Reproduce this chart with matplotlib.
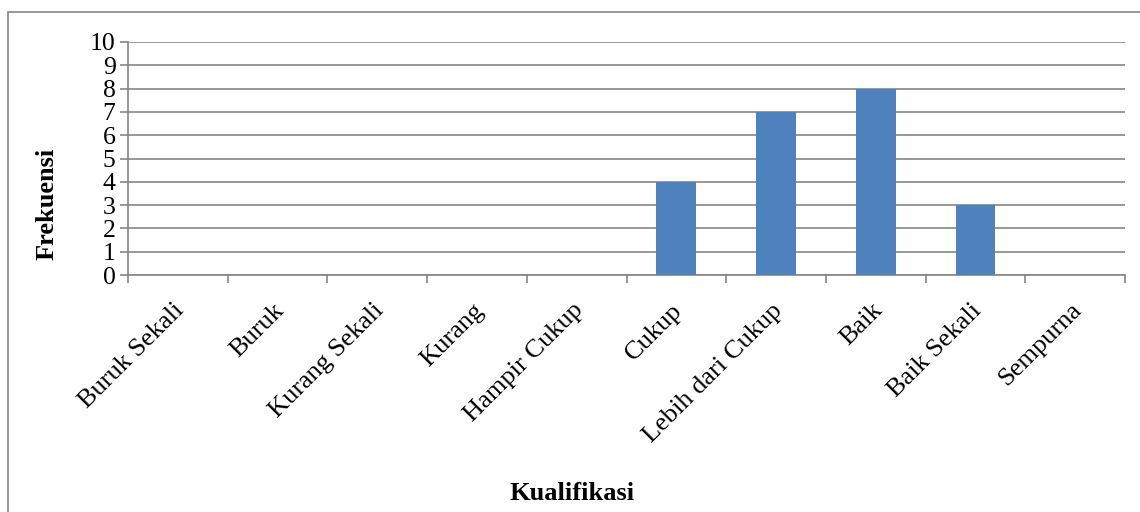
import matplotlib.pyplot as plt
from matplotlib.patches import Rectangle
import numpy as np

# Frequency per qualification category
kategori = ['Buruk Sekali', 'Buruk', 'Kurang Sekali', 'Kurang', 'Hampir Cukup',
            'Cukup', 'Lebih dari Cukup', 'Baik', 'Baik Sekali', 'Sempurna']
frekuensi = [0, 0, 0, 0, 0, 4, 7, 8, 3, 0]
y_ticks = list(range(0, 11))

plt.rcParams['font.family'] = ['Liberation Serif', 'DejaVu Serif']

W, H = 1140, 512
fig = plt.figure(figsize=(W / 100, H / 100), dpi=100)

# chart border (runs off the right and bottom edge)
fig.patches.append(Rectangle((8 / W, -0.1), 1.2, 1 - 12 / H + 0.1,
                             transform=fig.transFigure, fill=False,
                             edgecolor='#868686', linewidth=1.2))

left, right, top, bottom = 128, 1125, 42, 275
ax = fig.add_axes([left / W, 1 - bottom / H, (right - left) / W, (bottom - top) / H])

x = np.arange(len(kategori))
ax.bar(x, frekuensi, width=0.4, color='#4F81BD', zorder=3)

ax.set_xlim(-0.5, len(kategori) - 0.5)
ax.set_ylim(0, 10)
ax.set_yticks(y_ticks)
ax.set_yticklabels([str(v) for v in y_ticks], fontsize=18.5)
ax.yaxis.grid(True, color='#868686', linewidth=1.2, zorder=0)
ax.set_axisbelow(True)

# category boundaries get the tick marks
ax.set_xticks(np.arange(-0.5, len(kategori)))
ax.set_xticklabels([])
ax.tick_params(axis='x', direction='out', length=6, width=1.2, color='#868686')
ax.tick_params(axis='y', direction='out', length=6, width=1.2, color='#868686', pad=3)

for s in ['top', 'right']:
    ax.spines[s].set_visible(False)
for s in ['left', 'bottom']:
    ax.spines[s].set_color('#868686')
    ax.spines[s].set_linewidth(1.2)

for i, name in enumerate(kategori):
    ax.annotate(name, xy=(i, 0), xycoords='data', xytext=(3, -32),
                textcoords='offset pixels', rotation=45, rotation_mode='anchor',
                ha='right', va='center', fontsize=19)

fig.text(47 / W, 1 - 204 / H, 'Frekuensi', rotation=90, ha='center', va='center',
         fontsize=19, fontweight='bold')
fig.text(572 / W, 1 - 494 / H, 'Kualifikasi', ha='center', va='center',
         fontsize=19, fontweight='bold')

fig.savefig('out.png', dpi=100)
